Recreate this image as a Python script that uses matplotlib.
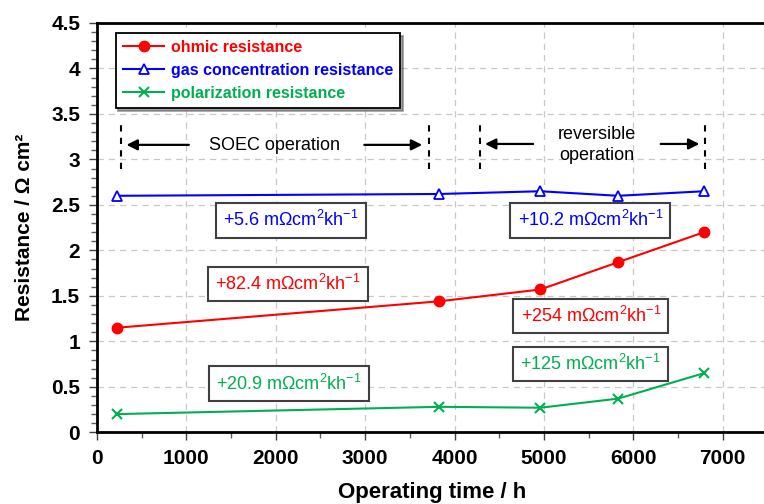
import matplotlib
matplotlib.use("Agg")
import matplotlib.pyplot as plt
from matplotlib.ticker import MultipleLocator

plt.rcParams['font.family'] = ['Liberation Sans', 'DejaVu Sans']
plt.rcParams['mathtext.fontset'] = 'custom'
plt.rcParams['mathtext.rm'] = 'Liberation Sans'
plt.rcParams['mathtext.it'] = 'Liberation Sans:italic'
plt.rcParams['mathtext.bf'] = 'Liberation Sans:bold'

# dados
tempo = [230, 3830, 4960, 5830, 6790]
ohmica = [1.15, 1.44, 1.57, 1.87, 2.20]
gas = [2.60, 2.62, 2.65, 2.60, 2.65]
polarizacao = [0.20, 0.28, 0.27, 0.37, 0.65]

rotulos = ['ohmic resistance', 'gas concentration resistance', 'polarization resistance']
cores = ['#ff0000', '#0000ff', '#00b050']

# taxas de degradação (texto, cor, posição x, posição y)
taxas = [
    ('5.6', '#0000ff', 2170, 2.33),
    ('10.2', '#0000ff', 5520, 2.33),
    ('82.4', '#ff0000', 2140, 1.63),
    ('254', '#ff0000', 5525, 1.28),
    ('20.9', '#00b050', 2145, 0.535),
    ('125', '#00b050', 5520, 0.75),
]

# limites das fases de operação
limites = [270, 3710, 4290, 6800]

fig = plt.figure(figsize=(7.64, 5.04), dpi=100)
ax = fig.add_axes([0.1268, 0.1423, 0.8777, 0.8121])

ax.plot(tempo, ohmica, color=cores[0], lw=1.5, marker='o', ms=7.5, label=rotulos[0])
ax.plot(tempo, gas, color=cores[1], lw=1.5, marker='^', ms=7, mfc='white',
        mew=1.3, label=rotulos[1])
ax.plot(tempo, polarizacao, color=cores[2], lw=1.5, marker='x', ms=6.5, mew=1.5,
        label=rotulos[2])

ax.set_xlim(0, 7500)
ax.set_ylim(0, 4.5)
ax.xaxis.set_major_locator(MultipleLocator(1000))
ax.xaxis.set_minor_locator(MultipleLocator(500))
ax.yaxis.set_minor_locator(MultipleLocator(0.1))
ax.set_yticks([0, 0.5, 1, 1.5, 2, 2.5, 3, 3.5, 4, 4.5])
ax.set_yticklabels(['0', '0.5', '1', '1.5', '2', '2.5', '3', '3.5', '4', '4.5'])
ax.tick_params(which='major', length=6, width=1, color='#404040', labelsize=15, pad=6)
ax.tick_params(which='minor', length=4, width=1, color='#606060')
for lab in ax.get_xticklabels() + ax.get_yticklabels():
    lab.set_fontweight('bold')
ax.grid(True, which='major', linestyle=(0, (5, 4)), color='#c8c8c8', lw=0.9)
ax.set_axisbelow(True)
for s in ax.spines.values():
    s.set_linewidth(2)

ax.set_xlabel('Operating time / h', fontsize=16, fontweight='bold', labelpad=10)
ax.set_ylabel('Resistance / Ω cm²', fontsize=15, fontweight='bold', labelpad=12)

leg = ax.legend(loc='upper left', bbox_to_anchor=(0.028, 0.976), borderaxespad=0,
                prop={'weight': 'bold', 'size': 11.5}, labelcolor='linecolor',
                handlelength=2.6, fancybox=False, shadow=True, framealpha=1,
                edgecolor='black', borderpad=0.45, labelspacing=0.5,
                handletextpad=0.4)
leg.get_frame().set_linewidth(1.3)

# linhas tracejadas das fases
for x in limites:
    ax.plot([x, x], [2.9, 3.4], color='black', lw=1.5, ls=(0, (3, 3)))

seta = dict(arrowstyle='-|>', color='black', lw=1.6, mutation_scale=16)
ax.annotate('', xy=(300, 3.16), xytext=(1060, 3.16), arrowprops=seta)
ax.annotate('', xy=(3670, 3.16), xytext=(2960, 3.16), arrowprops=seta)
ax.annotate('', xy=(4310, 3.17), xytext=(4910, 3.17), arrowprops=seta)
ax.annotate('', xy=(6770, 3.17), xytext=(6275, 3.17), arrowprops=seta)
ax.text(1990, 3.15, 'SOEC operation', ha='center', va='center', fontsize=13)
ax.text(5590, 3.16, 'reversible\noperation', ha='center', va='center', fontsize=13,
        linespacing=1.3)

for valor, cor, x, y in taxas:
    ax.text(x, y, '+' + valor + ' mΩcm$^{2}$kh$^{-1}$', color=cor, fontsize=13,
            ha='center', va='center',
            bbox=dict(boxstyle='square,pad=0.4', fc='white', ec='#404040', lw=1.5))

plt.savefig('out.png', dpi=100)
